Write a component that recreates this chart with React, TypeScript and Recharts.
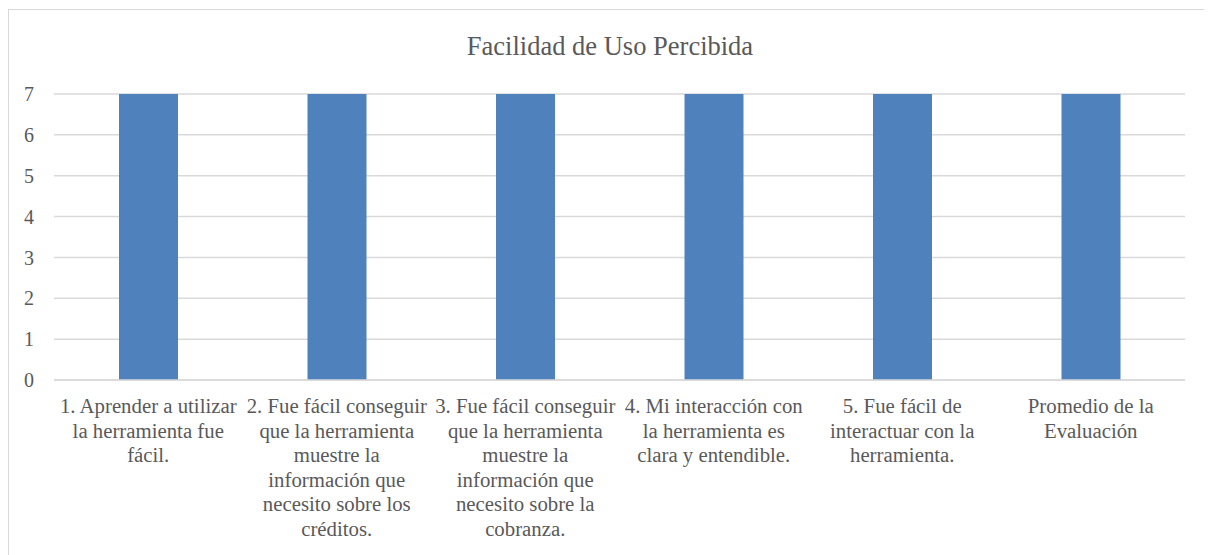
import { BarChart, Bar, XAxis, YAxis, CartesianGrid } from "recharts";

// categories, one entry per bar, broken into the lines shown under the axis
const categoryLines: string[][] = [
  ["1. Aprender a utilizar", "la herramienta fue", "fácil."],
  [
    "2. Fue fácil conseguir",
    "que la herramienta",
    "muestre la",
    "información que",
    "necesito sobre los",
    "créditos.",
  ],
  [
    "3. Fue fácil conseguir",
    "que la herramienta",
    "muestre la",
    "información que",
    "necesito sobre la",
    "cobranza.",
  ],
  ["4. Mi interacción con", "la herramienta es", "clara y entendible."],
  ["5. Fue fácil de", "interactuar con la", "herramienta."],
  ["Promedio de la", "Evaluación"],
];

const scores = [7, 7, 7, 7, 7, 7];

const yTicks = [0, 1, 2, 3, 4, 5, 6, 7];

const title = "Facilidad de Uso Percibida";

const data = categoryLines.map((lines, i) => ({
  name: String(i),
  score: scores[i],
}));

const FONT = "Liberation Serif";
const TEXT = "#595959";

function CategoryTick(props: any) {
  const { x, y, payload } = props;
  const lines = categoryLines[Number(payload.value)] || [];
  return (
    <text x={x} y={y} textAnchor="middle" fill={TEXT} fontFamily={FONT} fontSize={20.8}>
      {lines.map((line, i) => (
        <tspan key={i} x={x} dy={i === 0 ? 33 : 24.6}>
          {line}
        </tspan>
      ))}
    </text>
  );
}

export default function App() {
  return (
    <div
      style={{
        position: "relative",
        width: 1203,
        height: 546,
        marginTop: 1,
        borderLeft: "1px solid #d9d9d9",
        borderTop: "1px solid #d9d9d9",
        overflow: "hidden",
      }}
    >
      {/* TITLE */}

      <svg width={1203} height={60} style={{ position: "absolute", left: 0, top: 0 }}>
        <text x={601} y={45} textAnchor="middle" fill={TEXT} fontFamily={FONT} fontSize={26.5}>
          {title}
        </text>
      </svg>

      {/* CHART */}

      <BarChart
        width={1203}
        height={546}
        data={data}
        margin={{ top: 84, right: 27, bottom: 0, left: 0 }}
      >
        <CartesianGrid vertical={false} stroke="#d9d9d9" strokeWidth={1.5} />

        <XAxis
          dataKey="name"
          height={176}
          interval={0}
          tickLine={false}
          tickSize={0}
          tickMargin={0}
          stroke="#d9d9d9"
          strokeWidth={1.5}
          tick={<CategoryTick />}
        />

        <YAxis
          width={45}
          domain={[0, 7]}
          ticks={yTicks}
          axisLine={false}
          tickLine={false}
          tickSize={0}
          tickMargin={20}
          tick={{ fill: TEXT, fontFamily: FONT, fontSize: 20 }}
        />

        <Bar dataKey="score" fill="#4f81bd" barSize={59} isAnimationActive={false} />
      </BarChart>
    </div>
  );
}
